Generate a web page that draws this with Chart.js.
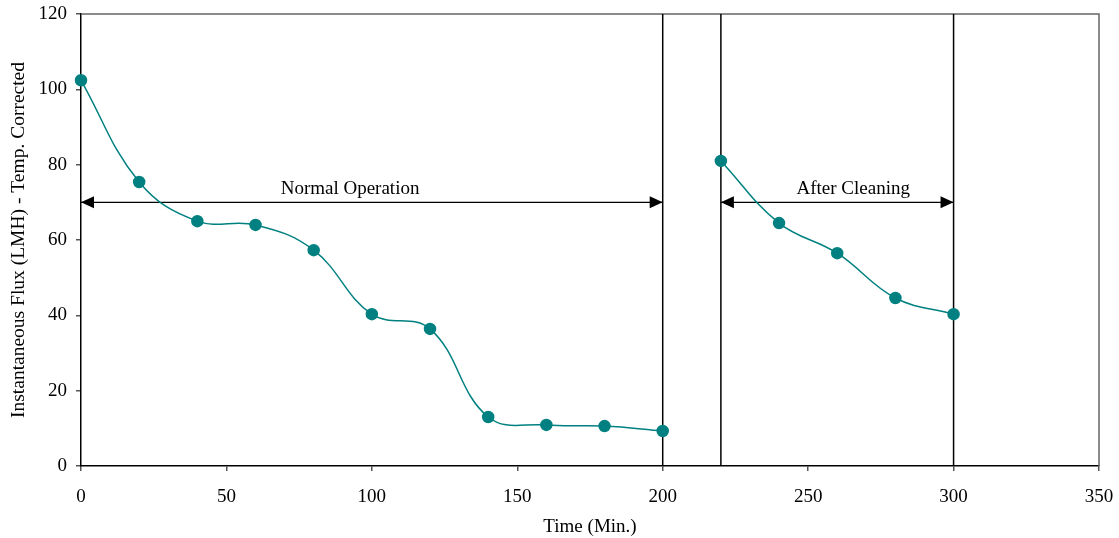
<!DOCTYPE html>
<html>
<head>
<meta charset="utf-8">
<script src="https://cdn.jsdelivr.net/npm/chart.js@4/dist/chart.umd.min.js"></script>
<style>
  html, body { margin: 0; padding: 0; background: #fff; }
  #wrap { width: 1119px; height: 538px; }
</style>
</head>
<body>
<div id="wrap"><canvas id="flux-chart"></canvas></div>
<script>
// data
const normalTimes = [0, 20, 40, 60, 80, 100, 120, 140, 160, 180, 200];
const normalFlux = [102.4, 75.4, 65.0, 64.0, 57.3, 40.3, 36.4, 13.0, 10.9, 10.6, 9.3];
const cleanTimes = [220, 240, 260, 280, 300];
const cleanFlux = [81.0, 64.5, 56.5, 44.6, 40.3];

const xTicks = [0, 50, 100, 150, 200, 250, 300, 350];
const yTicks = [0, 20, 40, 60, 80, 100, 120];

// vertical marker lines and the two labelled arrows
const markerTimes = [200, 220, 300];
const arrowLabels = ["Normal Operation", "After Cleaning"];
const arrowStarts = [0, 220];
const arrowEnds = [200, 300];
const arrowLabelAt = [92.5, 265.5];
const arrowLevel = 70;

const TEAL = "#008080";
const FONT = "'Liberation Serif', 'Times New Roman', serif";

function toPoints(xs, ys) {
  return xs.map((x, i) => ({ x: x, y: ys[i] }));
}

// draws frame, vertical lines and arrows
const overlayPlugin = {
  id: "overlay",
  beforeDatasetsDraw(chart) {
    const ctx = chart.ctx;
    const area = chart.chartArea;
    const xs = chart.scales.x;
    const ys = chart.scales.y;

    ctx.save();
    // top and right frame
    ctx.strokeStyle = "#666";
    ctx.lineWidth = 1.5;
    ctx.beginPath();
    ctx.moveTo(area.left, area.top);
    ctx.lineTo(area.right, area.top);
    ctx.lineTo(area.right, area.bottom);
    ctx.stroke();

    ctx.strokeStyle = "#000";
    ctx.lineWidth = 1.5;
    markerTimes.forEach((t) => {
      const px = xs.getPixelForValue(t);
      ctx.beginPath();
      ctx.moveTo(px, area.top);
      ctx.lineTo(px, area.bottom);
      ctx.stroke();
    });

    const py = ys.getPixelForValue(arrowLevel);
    ctx.fillStyle = "#000";
    ctx.font = "19px " + FONT;
    ctx.textAlign = "center";
    ctx.textBaseline = "bottom";
    arrowLabels.forEach((label, i) => {
      const x1 = xs.getPixelForValue(arrowStarts[i]);
      const x2 = xs.getPixelForValue(arrowEnds[i]);
      ctx.lineWidth = 1.2;
      ctx.beginPath();
      ctx.moveTo(x1, py);
      ctx.lineTo(x2, py);
      ctx.stroke();
      // arrow heads
      ctx.beginPath();
      ctx.moveTo(x1, py);
      ctx.lineTo(x1 + 13, py - 6);
      ctx.lineTo(x1 + 13, py + 6);
      ctx.closePath();
      ctx.fill();
      ctx.beginPath();
      ctx.moveTo(x2, py);
      ctx.lineTo(x2 - 13, py - 6);
      ctx.lineTo(x2 - 13, py + 6);
      ctx.closePath();
      ctx.fill();
      ctx.fillText(label, xs.getPixelForValue(arrowLabelAt[i]), py - 4);
    });
    ctx.restore();
  },
};

const seriesStyle = {
  borderColor: TEAL,
  backgroundColor: TEAL,
  pointBackgroundColor: TEAL,
  pointBorderColor: TEAL,
  pointRadius: 5.5,
  borderWidth: 1.5,
  tension: 0.4,
  fill: false,
  clip: false,
};

const fluxChart = new Chart(document.getElementById("flux-chart"), {
  type: "line",
  data: {
    datasets: [
      Object.assign({ label: "Normal Operation", data: toPoints(normalTimes, normalFlux) }, seriesStyle),
      Object.assign({ label: "After Cleaning", data: toPoints(cleanTimes, cleanFlux) }, seriesStyle),
    ],
  },
  options: {
    responsive: true,
    maintainAspectRatio: false,
    animation: false,
    layout: {
      padding: { left: 0, top: 14, right: 20, bottom: 0 },
    },
    plugins: {
      legend: { display: false },
      tooltip: { enabled: false },
    },
    scales: {
      x: {
        type: "linear",
        min: 0,
        max: 350,
        afterBuildTicks(axis) {
          axis.ticks = xTicks.map((v) => ({ value: v }));
        },
        afterFit(axis) {
          axis.height = 72;
          axis.paddingLeft = 0;
          axis.paddingRight = 0;
        },
        border: { color: "#000", width: 1.5 },
        grid: { drawOnChartArea: false, tickLength: 5, color: "#555", lineWidth: 1.5 },
        ticks: { color: "#000", padding: 15, font: { family: FONT, size: 19 } },
        title: {
          display: true,
          text: "Time (Min.)",
          color: "#000",
          font: { family: FONT, size: 19 },
          padding: { top: 4, bottom: 0 },
        },
      },
      y: {
        min: 0,
        max: 120,
        afterBuildTicks(axis) {
          axis.ticks = yTicks.map((v) => ({ value: v }));
        },
        afterFit(axis) {
          axis.width = 81;
          axis.paddingTop = 0;
          axis.paddingBottom = 0;
        },
        border: { color: "#000", width: 1.5 },
        grid: { drawOnChartArea: false, tickLength: 5, color: "#555", lineWidth: 1.5 },
        ticks: { color: "#000", padding: 9, font: { family: FONT, size: 19 } },
        title: {
          display: true,
          text: "Instantaneous Flux (LMH) - Temp. Corrected",
          color: "#000",
          font: { family: FONT, size: 19.5 },
          padding: { top: 7, bottom: 8 },
        },
      },
    },
  },
  plugins: [overlayPlugin],
});
</script>
</body>
</html>
